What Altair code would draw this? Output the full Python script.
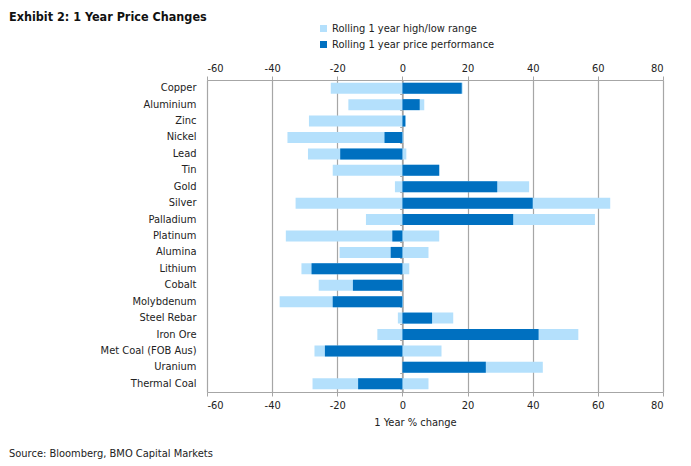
import altair as alt
import pandas as pd

commodities = ["Copper", "Aluminium", "Zinc", "Nickel", "Lead", "Tin", "Gold", "Silver",
               "Palladium", "Platinum", "Alumina", "Lithium", "Cobalt", "Molybdenum",
               "Steel Rebar", "Iron Ore", "Met Coal (FOB Aus)", "Uranium", "Thermal Coal"]
range_low = [-22.0, -16.6, -28.7, -35.3, -29.0, -21.4, -2.3, -32.8, -11.2, -35.8,
             -19.3, -31.0, -25.7, -37.7, -1.4, -7.7, -27.0, 0.0, -27.6]
range_high = [18.5, 6.7, 1.0, 0.3, 1.2, 11.3, 38.9, 63.8, 59.1, 11.3,
              8.0, 2.1, 0.2, 0.2, 15.6, 54.0, 12.0, 43.1, 8.0]
performance = [18.2, 5.3, 0.9, -5.5, -19.1, 11.3, 29.1, 40.0, 34.0, -3.1,
               -3.6, -27.9, -15.2, -21.4, 9.1, 41.8, -23.8, 25.6, -13.6]
series_names = ["Rolling 1 year high/low range", "Rolling 1 year price performance"]
x_ticks = [-60, -40, -20, 0, 20, 40, 60, 80]

LIGHT = "#B4E0FC"
DARK = "#0070C0"
GRID = "#A6A6A6"
TXT = "#222222"
FONT = "DejaVu Sans Condensed, sans-serif"

range_df = pd.DataFrame({"commodity": commodities, "start": range_low, "end": range_high,
                         "series": series_names[0]})
perf_df = pd.DataFrame({"commodity": commodities, "start": [0.0] * len(commodities),
                        "end": performance, "series": series_names[1]})

xscale = alt.Scale(domain=[-60, 80], nice=False, zero=False)
yscale = alt.Scale(domain=commodities, paddingInner=0.33, paddingOuter=0.165)
cscale = alt.Scale(domain=series_names, range=[LIGHT, DARK])
label_expr = "'' + datum.value"

light = alt.Chart(range_df).mark_bar().encode(
    x=alt.X("start:Q", scale=xscale, title=None,
            axis=alt.Axis(orient="top", values=x_ticks, grid=True, gridColor=GRID,
                          gridWidth=1.2, domainColor=GRID, tickColor=GRID, tickSize=4,
                          labelColor=TXT, labelFontSize=11, labelPadding=3,
                          labelExpr=label_expr)),
    x2="end:Q",
    y=alt.Y("commodity:N", scale=yscale, sort=commodities, title=None,
            axis=alt.Axis(orient="left", ticks=False, domain=False, labelPadding=11,
                          labelColor=TXT, labelFontSize=11)),
    color=alt.Color("series:N", scale=cscale, title=None,
                    legend=alt.Legend(orient="none", legendX=111, legendY=-57,
                                      symbolType="square", symbolSize=49,
                                      symbolStrokeWidth=0, labelFontSize=11,
                                      labelColor=TXT, rowPadding=4, labelOffset=3,
                                      labelLimit=300)),
)

dark = alt.Chart(perf_df).mark_bar().encode(
    x=alt.X("start:Q", scale=xscale, title="1 Year % change",
            axis=alt.Axis(orient="bottom", values=x_ticks, grid=False, domainColor=GRID,
                          tickColor=GRID, tickSize=4, labelColor=TXT, labelFontSize=11,
                          labelPadding=3, titleFontSize=11, titleFontWeight="normal",
                          titleColor=TXT, titleX=208, titlePadding=6,
                          labelExpr=label_expr)),
    x2="end:Q",
    y=alt.Y("commodity:N", scale=yscale, sort=commodities, title=None,
            axis=alt.Axis(orient="left", labels=False, offset=-195.7, domainColor=GRID,
                          tickColor=GRID, tickSize=3, tickBand="extent")),
    color=alt.Color("series:N", scale=cscale, title=None),
)

title = alt.Chart(pd.DataFrame({"t": ["Exhibit 2: 1 Year Price Changes"]})).mark_text(
    align="left", baseline="middle", fontSize=12.5, fontWeight="bold", color="#111111", font=FONT
).encode(text="t:N", x=alt.value(-198), y=alt.value(-63))

source = alt.Chart(pd.DataFrame({"t": ["Source: Bloomberg, BMO Capital Markets"]})).mark_text(
    align="left", baseline="middle", fontSize=11, color=TXT, font=FONT
).encode(text="t:N", x=alt.value(-198), y=alt.value(374))

chart = alt.layer(light, dark, title, source).resolve_axis(
    x="independent", y="independent"
).properties(
    width=456, height=312,
    autosize=alt.AutoSizeParams(type="none"),
    padding={"left": 199, "top": 72, "right": 20, "bottom": 70},
    background="white",
).configure(font=FONT).configure_view(stroke=None)

chart.save("out.html", embed_options={"renderer": "svg", "actions": False})
